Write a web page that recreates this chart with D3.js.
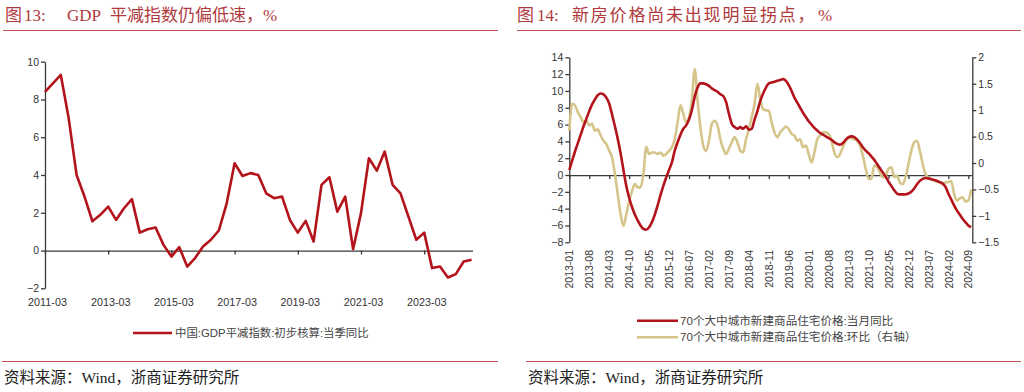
<!DOCTYPE html>
<html><head><meta charset="utf-8">
<script src="https://cdn.jsdelivr.net/npm/d3@7"></script>
<style>
html,body{margin:0;padding:0;background:#fff;}
svg{display:block;}
</style></head>
<body>
<svg id="c" width="1024" height="392"></svg>
<script>
// ---------- Data: Chart 13 (quarterly, 2011-03 .. 2024-09) ----------
const gdpTickLabels = ["2011-03","2013-03","2015-03","2017-03","2019-03","2021-03","2023-03"];
const gdpDeflator = [8.4,8.85,9.3,7.0,4.0,2.86,1.55,1.89,2.33,1.62,2.24,2.72,0.95,1.13,1.22,0.3,-0.32,0.18,-0.85,-0.4,
  0.21,0.57,1.06,2.5,4.62,3.95,4.1,4.0,3.03,2.77,2.86,1.62,0.95,1.57,0.48,3.48,3.88,2.06,2.86,0.07,
  1.98,4.89,4.23,5.24,3.48,3.03,1.8,0.57,0.95,-0.93,-0.85,-1.43,-1.25,-0.58,-0.49];
const gdpYTicks = [-2,0,2,4,6,8,10];

// ---------- Data: Chart 14 (monthly, 2013-01 .. 2024-10) ----------
const houseTickLabels = ["2013-01","2013-08","2014-03","2014-10","2015-05","2015-12","2016-07","2017-02","2017-09","2018-04",
  "2018-11","2019-06","2020-01","2020-08","2021-03","2021-10","2022-05","2022-12","2023-07","2024-02","2024-09"];
const houseYoY = [0.6,1.7,2.8,3.8,4.8,5.8,6.7,7.6,8.4,9.0,9.5,9.7,9.6,9.2,8.5,7.2,5.8,4.3,2.6,0.6,
  -1.3,-2.7,-3.8,-4.7,-5.4,-6.0,-6.4,-6.5,-6.2,-5.6,-4.7,-3.6,-2.4,-1.3,-0.3,0.6,
  1.5,2.9,3.9,4.8,5.5,5.9,6.6,7.7,9.3,10.4,10.9,10.9,10.8,10.6,10.3,10.1,9.9,9.6,9.4,8.7,
  7.3,6.1,5.7,5.5,5.7,5.5,5.8,5.4,5.5,6.6,7.6,8.8,9.7,10.4,
  10.9,11.0,11.1,11.2,11.3,11.4,11.2,10.7,10.0,9.2,8.6,8.0,7.4,6.9,6.4,6.0,5.6,5.3,5.0,4.8,
  4.6,4.4,4.2,3.9,3.7,3.6,3.8,4.2,4.5,4.6,4.5,4.2,3.8,3.3,2.9,
  2.6,2.2,1.8,1.3,0.8,0.3,-0.2,-0.8,-1.3,-1.8,-2.2,-2.3,-2.3,-2.3,-2.2,-2.0,-1.6,-1.1,-0.7,-0.45,
  -0.35,-0.4,-0.5,-0.6,-0.7,-0.85,-1.0,-1.4,-2.2,-2.9,-3.6,-4.2,-4.7,-5.2,-5.6,-6.0,-6.2];
const houseMoM = [0.61,1.12,1.09,0.96,0.87,0.77,0.80,0.71,0.74,0.61,0.64,0.52,0.42,0.36,0.23,0.11,-0.21,-0.59,-0.97,-1.19,
  -0.97,-0.72,-0.53,-0.40,-0.46,-0.46,-0.21,0.30,0.17,0.20,0.20,0.17,0.20,0.14,0.17,0.23,
  0.30,0.45,0.77,1.09,0.93,0.77,0.87,1.18,1.78,1.18,0.68,0.33,0.23,0.42,0.74,0.80,0.71,0.45,0.27,0.17,
  0.27,0.39,0.49,0.39,0.23,0.20,0.45,0.64,0.87,1.12,1.50,1.21,1.02,1.00,
  0.99,0.77,0.58,0.49,0.58,0.64,0.69,0.64,0.55,0.52,0.42,0.45,0.30,0.33,0.17,0.01,0.20,0.45,0.52,0.58,
  0.58,0.55,0.42,0.20,0.11,0.17,0.30,0.42,0.47,0.47,0.45,0.42,0.33,0.14,-0.11,
  -0.30,-0.30,-0.05,-0.08,-0.18,-0.27,-0.24,-0.11,-0.08,-0.27,-0.24,-0.37,-0.40,-0.27,-0.02,0.23,0.39,0.42,0.23,-0.02,
  -0.21,-0.27,-0.30,-0.33,-0.35,-0.37,-0.40,-0.37,-0.36,-0.34,-0.58,-0.71,-0.67,-0.65,-0.73,-0.71,-0.50];
const houseLeftTicks = [-8,-6,-4,-2,0,2,4,6,8,10,12,14];
const houseRightTicks = [-1.5,-1,-0.5,0,0.5,1,1.5,2];

// ---------- Styles ----------
const RED = "#b3131b", KHAKI = "#d5c58b", RULE = "#c9514f", TITLE = "#b0393d", AX = "#3a3a3a";
const SERIF = "'Liberation Serif','Noto Sans CJK SC',serif";
const SANS = "'Liberation Sans','Noto Sans CJK SC',sans-serif";

const svg = d3.select("#c");
svg.append("rect").attr("width",1024).attr("height",392).attr("fill","#fff");

function frame(x0, x1, parts, sx) {
  const t = svg.append("text").attr("y", 21).attr("font-family", SERIF).attr("font-size", 17)
    .attr("fill", TITLE);
  parts.forEach(([s, px, ls]) => t.append("tspan").attr("x", px).attr("letter-spacing", ls || 0).text(s));
  svg.append("line").attr("x1", x0).attr("x2", x1).attr("y1", 30.5).attr("y2", 30.5)
    .attr("stroke", RULE).attr("stroke-width", 1);
  svg.append("line").attr("x1", sx - 2).attr("x2", x1).attr("y1", 361.5).attr("y2", 361.5)
    .attr("stroke", RULE).attr("stroke-width", 1);
  svg.append("text").attr("x", sx).attr("y", 383).attr("font-family", SERIF).attr("font-size", 15.5)
    .attr("fill", "#222").text("资料来源：Wind，浙商证券研究所");
}
frame(3, 498, [["图", 5], ["13:", 24], ["GDP", 67], ["平减指数仍偏低速，", 110], ["%", 263]], 4);
frame(517, 1021, [["图", 517], ["14:", 537], ["新房价格尚未出现明显拐点，", 572, 1.8], ["%", 818]], 528);

function styleAxis(g) {
  g.selectAll("path.domain").attr("stroke", AX).attr("stroke-width", 1.3);
  g.selectAll(".tick line").attr("stroke", AX).attr("stroke-width", 1.3);
  g.selectAll("text").attr("fill", "#333").attr("font-family", SANS);
}

// ---------- Chart 13 ----------
{
  const x = d3.scaleLinear().domain([0, gdpDeflator.length - 1]).range([45, 471.6]);
  const y = d3.scaleLinear().domain([-2, 10]).range([288.3, 61.7]);
  const gy = svg.append("g").attr("transform", "translate(45,0)")
    .call(d3.axisLeft(y).tickValues(gdpYTicks).tickSize(4).tickSizeOuter(0).tickFormat(d3.format("d")));
  styleAxis(gy); gy.selectAll("text").attr("font-size", 10.5).attr("x", -6);
  const gx = svg.append("g").attr("transform", `translate(0,${y(0)})`)
    .call(d3.axisBottom(x).tickValues(gdpTickLabels.map((d, i) => i * 8)).tickSize(4).tickSizeOuter(0)
      .tickFormat((d, i) => gdpTickLabels[i]));
  gx.select("path.domain").attr("d", `M45,0.5H473`);
  styleAxis(gx);
  gx.selectAll("text").attr("font-size", 10.8).attr("y", 302 - y(0)).attr("dy", "0.35em").attr("dx", 2);
  const line = d3.line().x((d, i) => x(i)).y(d => y(d));
  svg.append("path").datum(gdpDeflator).attr("d", line).attr("fill", "none")
    .attr("stroke", RED).attr("stroke-width", 2.6).attr("stroke-linejoin", "round");
  // legend
  svg.append("line").attr("x1", 133).attr("x2", 172).attr("y1", 333).attr("y2", 333)
    .attr("stroke", RED).attr("stroke-width", 2.6);
  svg.append("text").attr("x", 175).attr("y", 333).attr("dy", "0.35em").attr("font-family", SANS)
    .attr("font-size", 11.4).attr("fill", "#444").text("中国:GDP平减指数:初步核算:当季同比");
}

// ---------- Chart 14 ----------
{
  const x = d3.scaleLinear().domain([0, houseYoY.length - 1]).range([569.3, 569.3 + 2.85 * (houseYoY.length - 1)]);
  const yl = d3.scaleLinear().domain([-8, 14]).range([242.3, 57.3]);
  const yr = d3.scaleLinear().domain([-1.5, 2]).range([242.3, 57.3]);
  const gl = svg.append("g").attr("transform", "translate(569.3,0)")
    .call(d3.axisLeft(yl).tickValues(houseLeftTicks).tickSize(4).tickSizeOuter(0).tickFormat(d3.format("d")));
  styleAxis(gl); gl.selectAll("text").attr("font-size", 10.5).attr("x", -6);
  const gr = svg.append("g").attr("transform", "translate(972.3,0)")
    .call(d3.axisRight(yr).tickValues(houseRightTicks).tickSize(4).tickSizeOuter(0).tickFormat(d3.format("")));
  styleAxis(gr); gr.selectAll("text").attr("font-size", 10.5).attr("x", 6);
  const gx = svg.append("g").attr("transform", `translate(0,${yl(0)})`)
    .call(d3.axisBottom(x).tickValues(houseTickLabels.map((d, i) => i * 7)).tickSize(4).tickSizeOuter(0)
      .tickFormat((d, i) => houseTickLabels[i]));
  gx.select("path.domain").attr("d", `M569.3,0.5H972.3`);
  styleAxis(gx);
  gx.selectAll("text").attr("font-size", 10.5).attr("text-anchor", "end")
    .attr("y", 0).attr("x", 0)
    .attr("transform", `translate(0,${250 - yl(0)}) rotate(-90)`)
    .attr("dy", "0.35em");
  const lineR = d3.line().x((d, i) => x(i)).y(d => yr(d)).curve(d3.curveMonotoneX);
  const lineL = d3.line().x((d, i) => x(i)).y(d => yl(d)).curve(d3.curveMonotoneX);
  svg.append("path").datum(houseMoM).attr("d", lineR).attr("fill", "none")
    .attr("stroke", KHAKI).attr("stroke-width", 2.6).attr("stroke-linejoin", "round");
  svg.append("path").datum(houseYoY).attr("d", lineL).attr("fill", "none")
    .attr("stroke", RED).attr("stroke-width", 2.6).attr("stroke-linejoin", "round");
  // legend
  const leg = [["70个大中城市新建商品住宅价格:当月同比", RED, 320.7],
               ["70个大中城市新建商品住宅价格:环比（右轴）", KHAKI, 337.3]];
  leg.forEach(([t, c, yy]) => {
    svg.append("line").attr("x1", 637).attr("x2", 678).attr("y1", yy).attr("y2", yy)
      .attr("stroke", c).attr("stroke-width", 2.6);
    svg.append("text").attr("x", 680).attr("y", yy).attr("dy", "0.35em").attr("font-family", SANS)
      .attr("font-size", 11.6).attr("fill", "#444").text(t);
  });
}
</script>
</body></html>
